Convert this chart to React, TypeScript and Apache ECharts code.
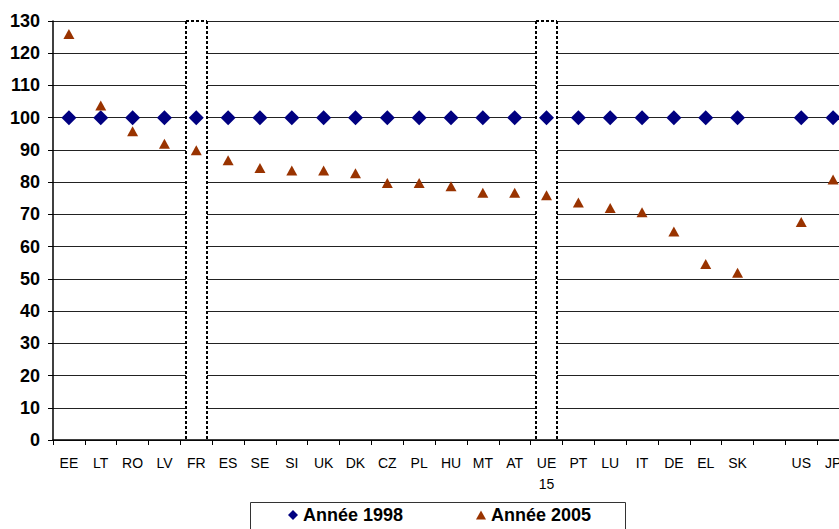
import React, { useEffect, useRef } from 'react';
import * as echarts from 'echarts';

const categories = ['EE', 'LT', 'RO', 'LV', 'FR', 'ES', 'SE', 'SI', 'UK', 'DK', 'CZ', 'PL', 'HU', 'MT', 'AT', 'UE\n15', 'PT', 'LU', 'IT', 'DE', 'EL', 'SK', '', 'US', 'JP'];
const annee1998 = [100, 100, 100, 100, 100, 100, 100, 100, 100, 100, 100, 100, 100, 100, 100, 100, 100, 100, 100, 100, 100, 100, null, 100, 100];
const annee2005 = [126, 103.8, 95.8, 91.9, 89.9, 86.8, 84.4, 83.6, 83.6, 82.8, 79.7, 79.7, 78.7, 76.7, 76.7, 75.9, 73.7, 72, 70.7, 64.7, 54.6, 51.9, null, 67.6, 80.8];
const highlighted = ['FR', 'UE\n15'];
const yMin = 0;
const yMax = 130;
const yStep = 10;

const FONT = 'Arial, "Liberation Sans", sans-serif';

export default function App() {
  const ref = useRef<HTMLDivElement>(null);
  useEffect(() => {
    const chart = echarts.init(ref.current!, null, { renderer: 'svg' });
    const dotted = { stroke: '#000', lineWidth: 2, lineDash: [3, 2] };
    chart.setOption({
      animation: false,
      backgroundColor: '#fff',
      grid: { left: 53, top: 21, width: 796, height: 419, containLabel: false },
      xAxis: {
        type: 'category',
        data: categories,
        boundaryGap: true,
        axisLine: { lineStyle: { color: '#000', width: 1.5 } },
        axisTick: { show: true, length: 5, lineStyle: { color: '#000' } },
        axisLabel: { interval: 0, color: '#000', fontFamily: FONT, fontSize: 14, lineHeight: 21, margin: 12 },
        splitLine: { show: false },
      },
      yAxis: {
        type: 'value',
        min: yMin,
        max: yMax,
        interval: yStep,
        axisLine: { show: true, lineStyle: { color: '#000', width: 1.5 } },
        axisTick: { show: true, length: 5, lineStyle: { color: '#000' } },
        axisLabel: { color: '#000', fontFamily: FONT, fontSize: 18, fontWeight: 'bold', margin: 13 },
        splitLine: { show: true, lineStyle: { color: '#222', width: 1 } },
      },
      legend: [
        {
          data: [{ name: 'Année 1998', icon: 'diamond' }],
          left: 288,
          top: 505,
          itemWidth: 10,
          itemHeight: 10,
          padding: 0,
          textStyle: { color: '#000', fontFamily: FONT, fontSize: 18, fontWeight: 'bold', lineHeight: 20 },
        },
        {
          data: [{ name: 'Année 2005', icon: 'triangle' }],
          left: 476,
          top: 505,
          itemWidth: 10,
          itemHeight: 9,
          padding: 0,
          textStyle: { color: '#000', fontFamily: FONT, fontSize: 18, fontWeight: 'bold', lineHeight: 20 },
        },
      ],
      graphic: [
        {
          type: 'rect',
          shape: { x: 250.5, y: 502.5, width: 375, height: 40 },
          style: { fill: 'none', stroke: '#333', lineWidth: 1 },
          silent: true,
        },
      ],
      series: [
        {
          type: 'custom',
          z: 1,
          silent: true,
          data: highlighted.map((c) => [categories.indexOf(c)]),
          encode: { x: 0 },
          renderItem: (params: any, api: any) => {
            const top = api.coord([api.value(0), yMax]);
            const bot = api.coord([api.value(0), yMin]);
            const bw = api.size([1, 0])[0];
            const w = bw * 0.65;
            const x0 = Math.round(top[0] - w / 2);
            const x1 = Math.round(top[0] + w / 2);
            return {
              type: 'group',
              children: [
                { type: 'rect', shape: { x: x0, y: top[1] - 1, width: x1 - x0, height: bot[1] - top[1] }, style: { fill: '#fff' } },
                { type: 'line', shape: { x1: x0, y1: top[1], x2: x0, y2: bot[1] }, style: dotted },
                { type: 'line', shape: { x1: x1, y1: top[1], x2: x1, y2: bot[1] }, style: dotted },
                { type: 'line', shape: { x1: x0, y1: top[1], x2: x1, y2: top[1] }, style: dotted },
              ],
            };
          },
        },
        {
          name: 'Année 1998',
          type: 'scatter',
          z: 3,
          symbol: 'diamond',
          symbolSize: 15,
          itemStyle: { color: '#000080', opacity: 1 },
          data: annee1998,
        },
        {
          name: 'Année 2005',
          type: 'scatter',
          z: 4,
          symbol: 'triangle',
          symbolSize: [11, 10],
          itemStyle: { color: '#993300', opacity: 1 },
          data: annee2005,
        },
      ],
    });
    return () => chart.dispose();
  }, []);
  return (
    <div style={{ position: 'fixed', left: 0, top: 0, width: 839, height: 529, overflow: 'hidden', background: '#fff' }}>
      <div ref={ref} style={{ width: 860, height: 529 }} />
    </div>
  );
}
